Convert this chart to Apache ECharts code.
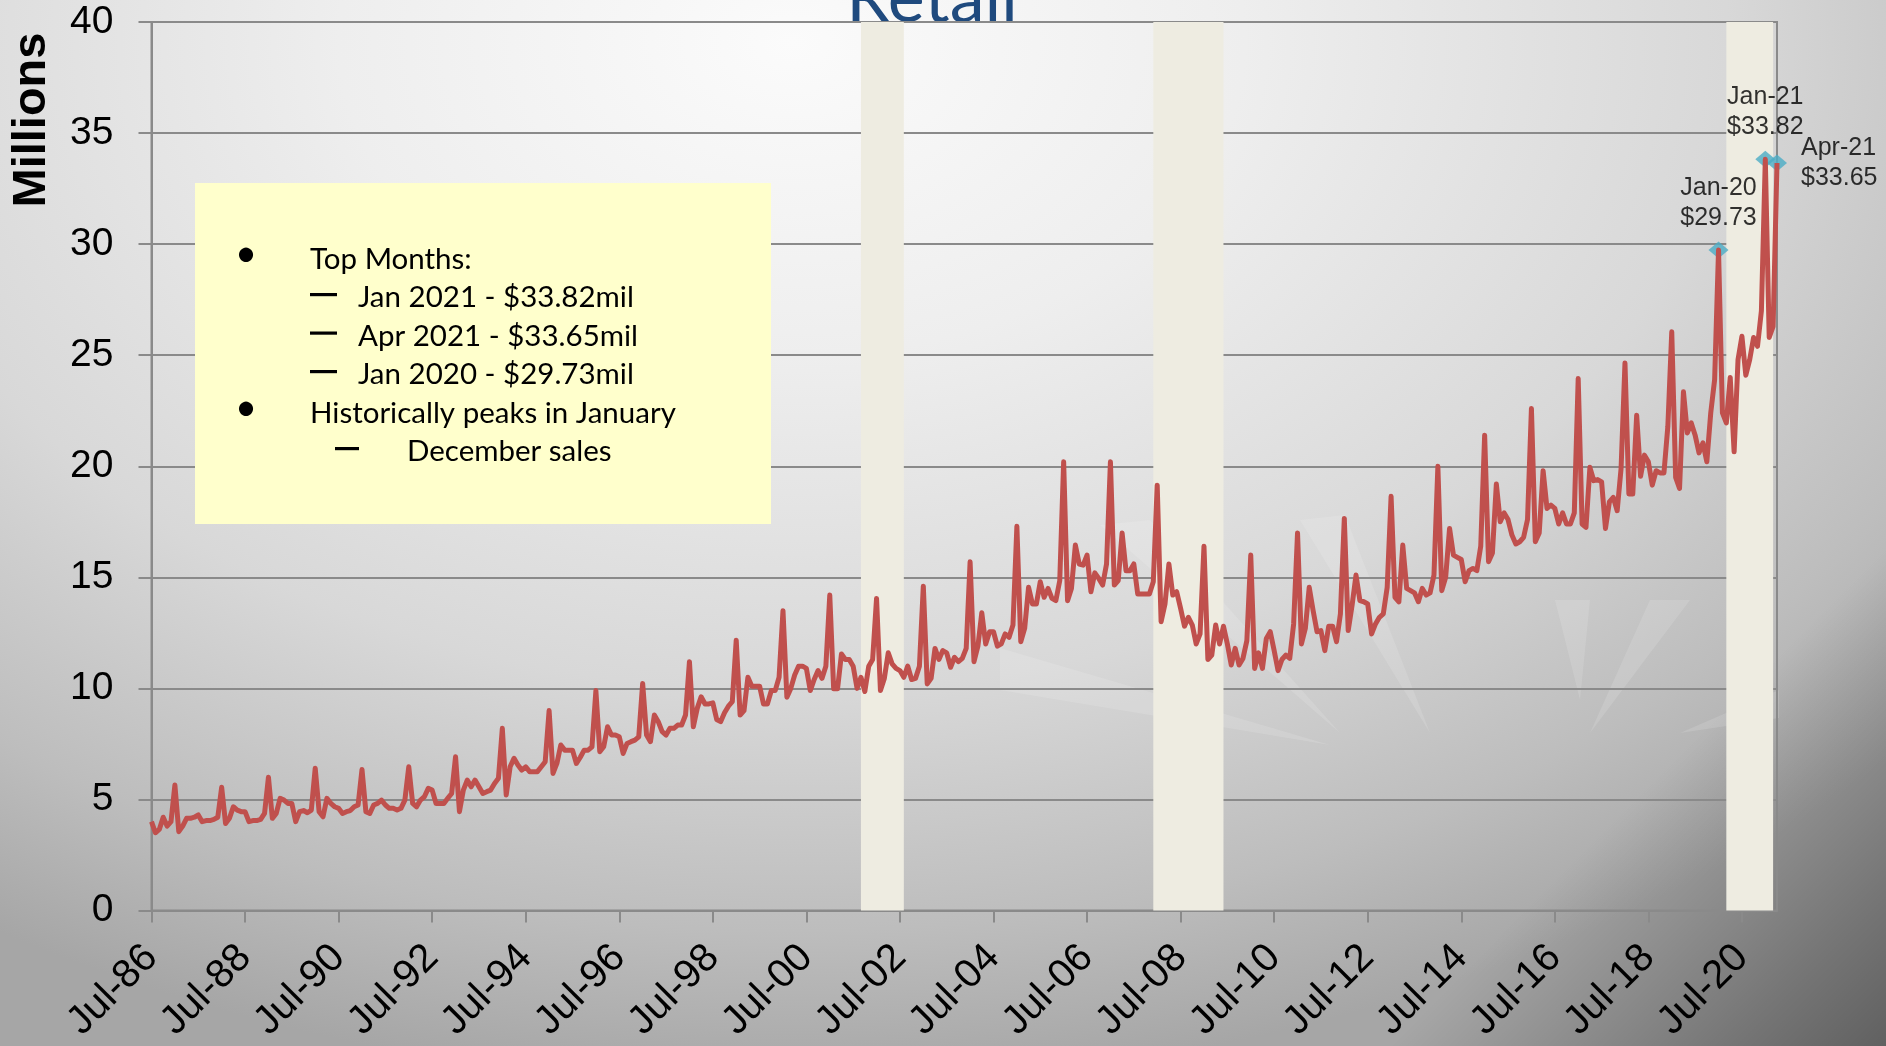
<!DOCTYPE html>
<html>
<head>
<meta charset="utf-8">
<script src="https://cdn.jsdelivr.net/npm/echarts@6/dist/echarts.min.js"></script>
<style>
  html, body { margin: 0; padding: 0; width: 1886px; height: 1046px; overflow: hidden; }
  body {
    background:
      linear-gradient(135deg, rgba(0,0,0,0) 83%, rgba(0,0,0,0.3) 95%, rgba(0,0,0,0.42) 100%),
      radial-gradient(ellipse 80% 100% at 42% 4%, #fbfbfb 0%, #eeeeee 30%, #d8d8d8 62%, #bdbdbd 85%, #a6a6a6 100%);
  }
  #chart { width: 1886px; height: 1046px; }
</style>
</head>
<body>
<div id="chart"></div>
<script>
// monthly retail sales, millions, fiscal years Jul..Jun
var fy1987 = [4.0, 3.5, 3.65, 4.2, 3.8, 4.0, 5.65, 3.55, 3.8, 4.15, 4.15, 4.2];
var fy1988 = [4.3, 4.0, 4.05, 4.05, 4.1, 4.2, 5.55, 3.92, 4.15, 4.67, 4.52, 4.45];
var fy1989 = [4.45, 4.0, 4.05, 4.05, 4.1, 4.37, 6.0, 4.15, 4.37, 5.05, 4.97, 4.82];
var fy1990 = [4.82, 4.0, 4.45, 4.5, 4.4, 4.52, 6.4, 4.45, 4.22, 5.05, 4.82, 4.67];
var fy1991 = [4.6, 4.37, 4.45, 4.5, 4.67, 4.75, 6.35, 4.45, 4.37, 4.75, 4.82, 4.97];
var fy1992 = [4.75, 4.6, 4.6, 4.52, 4.6, 4.97, 6.47, 4.82, 4.67, 4.97, 5.12, 5.5];
var fy1993 = [5.42, 4.82, 4.82, 4.82, 5.05, 5.27, 6.92, 4.45, 5.42, 5.87, 5.57, 5.87];
var fy1994 = [5.57, 5.27, 5.35, 5.42, 5.72, 5.95, 8.2, 5.2, 6.47, 6.85, 6.55, 6.32];
var fy1995 = [6.47, 6.25, 6.25, 6.25, 6.47, 6.7, 9.0, 6.17, 6.62, 7.45, 7.22, 7.22];
var fy1996 = [7.22, 6.62, 6.9, 7.22, 7.22, 7.37, 9.9, 7.15, 7.37, 8.27, 7.9, 7.9];
var fy1997 = [7.82, 7.07, 7.52, 7.6, 7.67, 7.82, 10.22, 7.9, 7.6, 8.8, 8.5, 8.05];
var fy1998 = [7.9, 8.2, 8.2, 8.35, 8.35, 8.8, 11.2, 8.27, 9.1, 9.62, 9.3, 9.3];
var fy1999 = [9.35, 8.6, 8.5, 8.9, 9.2, 9.4, 12.17, 8.8, 9.0, 10.5, 10.1, 10.1];
var fy2000 = [10.1, 9.3, 9.3, 9.9, 9.9, 10.5, 13.5, 9.6, 10.0, 10.6, 11.0, 11.0];
var fy2001 = [10.9, 9.9, 10.4, 10.8, 10.45, 11.0, 14.2, 9.98, 9.98, 11.55, 11.3, 11.3];
var fy2002 = [11.0, 10.0, 10.5, 9.86, 11.0, 11.3, 14.05, 9.9, 10.45, 11.6, 11.1, 10.9];
var fy2003 = [10.8, 10.5, 11.0, 10.4, 10.45, 11.0, 14.6, 10.2, 10.45, 11.8, 11.3, 11.7];
var fy2004 = [11.6, 10.95, 11.4, 11.2, 11.35, 11.8, 15.7, 11.2, 11.9, 13.4, 12.0, 12.55];
var fy2005 = [12.55, 11.9, 12.0, 12.45, 12.3, 12.85, 17.3, 12.1, 12.7, 14.55, 13.8, 13.8];
var fy2006 = [14.8, 14.1, 14.5, 14.05, 13.95, 14.85, 20.2, 13.95, 14.5, 16.45, 15.6, 15.55];
var fy2007 = [16.0, 14.35, 15.2, 14.95, 14.65, 15.6, 20.2, 14.65, 14.85, 17.0, 15.3, 15.3];
var fy2008 = [15.6, 14.25, 14.25, 14.25, 14.25, 14.8, 19.15, 13.0, 13.8, 15.6, 14.2, 14.35];
var fy2009 = [13.6, 12.8, 13.2, 12.85, 12.0, 12.45, 16.4, 11.3, 11.5, 12.85, 12.0, 12.8];
var fy2010 = [12.0, 11.05, 11.8, 11.05, 11.35, 12.15, 16.0, 10.9, 11.6, 10.9, 12.25, 12.55];
var fy2011 = [11.7, 10.8, 11.3, 11.5, 11.35, 12.9, 17.0, 12.0, 12.7, 14.55, 13.5, 12.55];
var fy2012 = [12.6, 11.7, 12.8, 12.8, 12.1, 13.35, 17.65, 12.6, 13.75, 15.1, 13.95, 13.9];
var fy2013 = [13.8, 12.45, 12.9, 13.2, 13.35, 14.55, 18.65, 14.1, 13.9, 16.45, 14.5, 14.4];
var fy2014 = [14.3, 13.9, 14.5, 14.2, 14.3, 15.1, 20.0, 14.4, 15.0, 17.2, 16.0, 15.9];
var fy2015 = [15.8, 14.8, 15.3, 15.4, 15.3, 16.4, 21.4, 15.7, 16.1, 19.2, 17.5, 17.9];
var fy2016 = [17.6, 16.9, 16.5, 16.6, 16.8, 17.6, 22.6, 16.6, 17.0, 19.8, 18.1, 18.25];
var fy2017 = [18.1, 17.4, 17.9, 17.4, 17.4, 17.9, 23.95, 17.4, 17.25, 19.95, 19.35, 19.4];
var fy2018 = [19.3, 17.2, 18.4, 18.6, 18.0, 19.9, 24.65, 18.75, 18.75, 22.3, 19.55, 20.5];
var fy2019 = [20.2, 19.15, 19.8, 19.7, 19.7, 21.8, 26.05, 19.5, 19.0, 23.35, 21.5, 21.95];
var fy2020 = [21.4, 20.6, 21.05, 20.2, 22.4, 23.9, 29.73, 22.4, 21.95, 24.0, 20.65, 24.8];
var fy2021 = [25.85, 24.1, 24.8, 25.8, 25.4, 27.0, 33.82, 25.8, 26.3, 33.65];

var sales = [].concat(fy1987, fy1988, fy1989, fy1990, fy1991, fy1992, fy1993, fy1994,
  fy1995, fy1996, fy1997, fy1998, fy1999, fy2000, fy2001, fy2002, fy2003, fy2004,
  fy2005, fy2006, fy2007, fy2008, fy2009, fy2010, fy2011, fy2012, fy2013, fy2014,
  fy2015, fy2016, fy2017, fy2018, fy2019, fy2020, fy2021);

// month labels starting Jul-86
var monthNames = ['Jan', 'Feb', 'Mar', 'Apr', 'May', 'Jun', 'Jul', 'Aug', 'Sep', 'Oct', 'Nov', 'Dec'];
var months = [];
for (var i = 0; i < sales.length; i++) {
  var m = 6 + i;
  var yr = (1986 + Math.floor(m / 12)) % 100;
  months.push(monthNames[m % 12] + '-' + (yr < 10 ? '0' : '') + yr);
}

// shaded periods
var shaded = [['Sep-01', 'Aug-02'], ['Dec-07', 'Jun-09'], ['Mar-20', 'Mar-21']];
// called-out months
var callouts = [['Jan-20', 29.73], ['Jan-21', 33.82], ['Apr-21', 33.65]];

var notes = [
  { level: 1, text: 'Top Months:' },
  { level: 2, text: 'Jan 2021 - $33.82mil' },
  { level: 2, text: 'Apr 2021 - $33.65mil' },
  { level: 2, text: 'Jan 2020 - $29.73mil' },
  { level: 1, text: 'Historically peaks in January' },
  { level: 3, text: 'December sales' }
];

var font = '"Liberation Sans", Arial, sans-serif';
var noteFont = 'Lato, "Noto Sans", sans-serif';
var rule = '#8a8a8a';

var chart = echarts.init(document.getElementById('chart'), null, { renderer: 'canvas' });

var graphics = [];

// faint sunburst rays of the slide background
var rays = [
  [[1330, 745], [1000, 648], [1000, 690]],
  [[1340, 733], [1100, 525], [1150, 520]],
  [[1430, 733], [1300, 520], [1345, 515]],
  [[1590, 733], [1650, 600], [1690, 600]],
  [[1580, 700], [1555, 600], [1590, 600]],
  [[1680, 733], [1779, 690], [1779, 718]]
];
rays.forEach(function(r) {
  graphics.push({
    type: 'polygon', silent: true, z: -10,
    shape: { points: r },
    style: { fill: 'rgba(255,255,255,0.13)' }
  });
});

graphics.push(
  {
    type: 'text', x: 932, y: -1, silent: true,
    style: { text: 'Retail', fill: '#1F4A7E', font: '70px ' + noteFont, align: 'center', verticalAlign: 'middle' }
  },
  {
    type: 'text', x: 32, y: 120, rotation: Math.PI / 2, silent: true,
    style: { text: 'Millions', fill: '#000', font: 'bold 47px ' + font, align: 'center', verticalAlign: 'middle' }
  },
  {
    type: 'rect', shape: { x: 195, y: 183, width: 576, height: 341 }, silent: true, z: 10,
    style: { fill: '#FFFFCC' }
  }
);

var textX = { 1: 310, 2: 358, 3: 407 };
var dashX = { 2: 310, 3: 335 };
notes.forEach(function(n, k) {
  var cy = 259 + k * 38.5;
  if (n.level === 1) {
    graphics.push({
      type: 'text', x: 246, y: cy - 5, z: 11, silent: true,
      style: { text: '•', fill: '#000', font: '38px ' + noteFont, align: 'center', verticalAlign: 'middle' }
    });
  } else {
    graphics.push({
      type: 'rect', z: 11, silent: true,
      shape: { x: dashX[n.level], y: cy - 4.5, width: n.level === 2 ? 27 : 24, height: 3.2 },
      style: { fill: '#000' }
    });
  }
  graphics.push({
    type: 'text', x: textX[n.level], y: cy, z: 11, silent: true,
    style: { text: n.text, fill: '#000', font: '29.5px ' + noteFont, align: 'left', verticalAlign: 'middle' }
  });
});

var labelPos = { 'Jan-20': 'top', 'Jan-21': 'top', 'Apr-21': 'right' };
var everyOther = function(idx) { return idx % 24 === 0; };

chart.setOption({
  animation: false,
  backgroundColor: 'transparent',
  textStyle: { fontFamily: font },
  grid: {
    left: 151.5, right: 109, top: 22, bottom: 135.5,
    show: true, borderColor: rule, borderWidth: 2, backgroundColor: 'transparent'
  },
  xAxis: {
    type: 'category',
    data: months,
    boundaryGap: false,
    axisLine: { lineStyle: { color: rule, width: 2 } },
    axisTick: { show: true, length: 12, interval: everyOther, lineStyle: { color: rule, width: 2 } },
    axisLabel: {
      interval: everyOther,
      rotate: 45, margin: 41, padding: [0, 0, 34, 0],
      color: '#000', fontSize: 40, fontFamily: font
    },
    splitLine: { show: false }
  },
  yAxis: {
    type: 'value',
    min: 0, max: 40, interval: 5,
    axisLine: { show: true, lineStyle: { color: rule, width: 2 } },
    axisTick: { show: true, length: 13, lineStyle: { color: rule, width: 2 } },
    axisLabel: { color: '#000', fontSize: 39, fontFamily: font, margin: 38 },
    splitLine: { lineStyle: { color: rule, width: 2 } }
  },
  series: [
    {
      type: 'line', data: [], silent: true,
      markArea: {
        silent: true,
        itemStyle: { color: '#EEECE1', opacity: 1 },
        data: shaded.map(function(s) { return [{ xAxis: s[0] }, { xAxis: s[1] }]; })
      }
    },
    {
      name: 'Retail',
      type: 'line',
      data: sales,
      symbol: 'none',
      lineStyle: { color: '#C0504D', width: 5, join: 'round' },
      silent: true
    },
    {
      type: 'scatter',
      symbol: 'diamond',
      symbolSize: [20, 17],
      itemStyle: { color: '#4BACC6' },
      data: callouts.map(function(c) {
        return {
          value: c,
          label: {
            show: true,
            position: labelPos[c[0]],
            distance: labelPos[c[0]] === 'right' ? 14 : 9,
            align: labelPos[c[0]] === 'right' ? 'left' : 'center',
            formatter: function(p) { return p.value[0] + '\n$' + p.value[1].toFixed(2); },
            color: '#000', fontSize: 25, lineHeight: 30, fontFamily: font
          }
        };
      }),
      silent: true
    }
  ],
  graphic: graphics
});
</script>
</body>
</html>
